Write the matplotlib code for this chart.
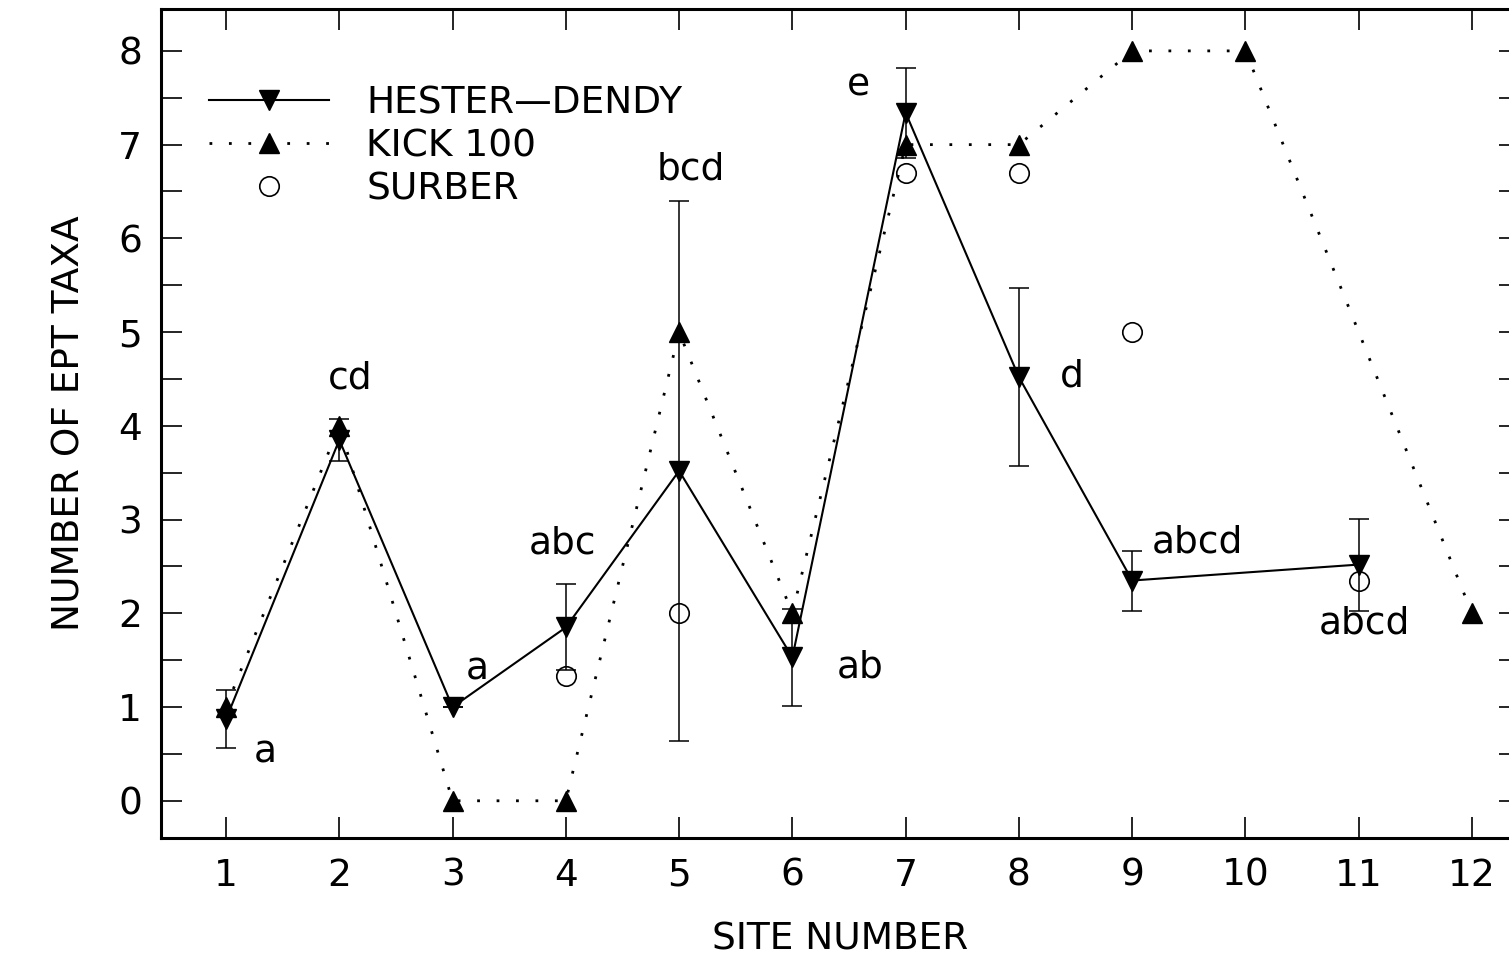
import numpy as np
import matplotlib
matplotlib.use("Agg")
import matplotlib.pyplot as plt
from matplotlib.lines import Line2D

# Hester-Dendy samplers: mean EPT taxa and error bar half-width
hd_sites = [1, 2, 3, 4, 5, 6, 7, 8, 9, 11]
hd_mean = [0.87, 3.85, 1.0, 1.85, 3.52, 1.53, 7.34, 4.52, 2.35, 2.52]
hd_err = [0.31, 0.22, 0.0, 0.46, 2.88, 0.52, 0.48, 0.95, 0.32, 0.49]

# Kick net, 100-organism subsample
kick_sites = [1, 2, 3, 4, 5, 6, 7, 8, 9, 10, 12]
kick_vals = [1.0, 4.0, 0.0, 0.0, 5.0, 2.0, 7.0, 7.0, 8.0, 8.0, 2.0]

# Surber samples
surber_sites = [4, 5, 7, 8, 9, 11]
surber_vals = [1.33, 2.0, 6.7, 6.7, 5.0, 2.35]

# Letter groupings (text, x, y)
group_text = ["a", "cd", "a", "abc", "bcd", "ab", "e", "d", "abcd", "abcd"]
group_x = [1.35, 2.1, 3.22, 3.97, 5.1, 6.6, 6.58, 8.47, 9.58, 11.05]
group_y = [0.52, 4.5, 1.4, 2.74, 6.74, 1.42, 7.63, 4.53, 2.76, 1.89]

fs = 27
plt.rcParams['font.family'] = ['DejaVu Sans']

fig = plt.figure(figsize=(15.09, 9.68), dpi=100)
ax = fig.add_axes([0.107, 0.134, 0.9, 0.857])

ax.errorbar(hd_sites, hd_mean, yerr=hd_err, color='black', lw=1.5,
            marker='v', ms=15, elinewidth=1.1, capsize=7.5, capthick=1.1,
            zorder=3)
ax.plot(kick_sites, kick_vals, color='black', lw=2, linestyle=(0, (1, 6)),
        marker='^', ms=15, zorder=3)
ax.plot(surber_sites, surber_vals, linestyle='none', marker='o', ms=14,
        mfc='none', mec='black', mew=1.2, zorder=4)

for t, x, y in zip(group_text, group_x, group_y):
    ax.text(x, y, t, fontsize=fs, ha='center', va='center')

ax.set_xlim(0.43, 12.42)
ax.set_ylim(-0.4, 8.45)
ax.set_xticks(range(1, 13))
ax.set_yticks(range(0, 9))
ax.set_yticks(np.arange(0.5, 8.5, 1.0), minor=True)
ax.tick_params(which='both', direction='in', top=True, right=True,
               labelsize=fs, width=1.2)
ax.tick_params(which='major', length=15, pad=14)
ax.tick_params(which='minor', length=15)
ax.tick_params(axis='x', which='minor', bottom=False, top=False)
for s in ax.spines.values():
    s.set_linewidth(2.2)

ax.set_xlabel('SITE NUMBER', fontsize=fs, labelpad=20)
ax.set_ylabel('NUMBER OF EPT TAXA', fontsize=fs, labelpad=22)

handles = [
    Line2D([], [], color='black', lw=1.5, marker='v', ms=15),
    Line2D([], [], color='black', lw=2, linestyle=(0, (1, 6)), marker='^', ms=15),
    Line2D([], [], linestyle='none', marker='o', ms=14, mfc='none',
           mec='black', mew=1.2),
]
labels = ['HESTER\u2014DENDY', 'KICK 100', 'SURBER']
ax.legend(handles, labels, loc='upper left', bbox_to_anchor=(0.01, 0.948),
          frameon=False, fontsize=fs, numpoints=1, handlelength=3.2,
          handletextpad=1.0, labelspacing=0.18)

fig.savefig('out.png', dpi=100)
